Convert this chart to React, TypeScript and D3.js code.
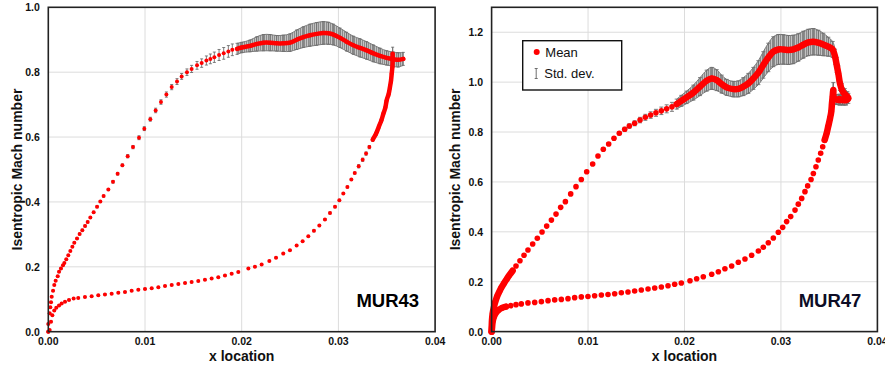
import React from "react";
import * as d3 from "d3";

// x values are given in thousandths (x location * 1000)
const X_UNIT = 1e-3;

const xTicks = [0, 0.01, 0.02, 0.03, 0.04];
const xTickLabels = ["0.00", "0.01", "0.02", "0.03", "0.04"];
const yTicksLeft = [0, 0.2, 0.4, 0.6, 0.8, 1.0];
const yTicksRight = [0, 0.2, 0.4, 0.6, 0.8, 1.0, 1.2];

// ---------- MUR43 : upper (suction side) ----------
const LU_X = [
  0.0, 0.0, 0.14, 0.21, 0.28, 0.35, 0.49, 0.62, 0.76, 0.97,
  1.11, 1.31, 1.52, 1.66, 1.86, 2.07, 2.28, 2.49, 2.69, 2.97,
  3.24, 3.52, 3.8, 4.07, 4.35, 4.69, 5.04, 5.38, 5.72, 6.21,
  6.69, 7.17, 7.66, 8.21, 8.76, 9.38, 9.93, 10.55, 11.1, 11.65,
  12.21, 12.76, 13.31, 13.79, 14.34, 14.82, 15.38, 15.86, 16.35, 16.76,
  17.17, 17.66, 18.14, 18.62, 19.03, 19.52, 20.0, 20.86, 21.55, 22.24,
  22.93, 23.62, 24.3, 24.99, 25.68, 26.37, 27.06, 27.75, 28.44, 28.96,
  29.48, 30.16, 30.85, 31.54, 32.23, 32.92, 33.61, 34.3, 34.99, 35.68,
  36.19, 36.71,
];
const LU_M = [
  0.0, 0.024, 0.057, 0.075, 0.091, 0.108, 0.126, 0.144, 0.157, 0.171,
  0.185, 0.195, 0.205, 0.212, 0.223, 0.236, 0.249, 0.262, 0.274, 0.287,
  0.301, 0.313, 0.326, 0.338, 0.352, 0.368, 0.385, 0.401, 0.418, 0.438,
  0.462, 0.487, 0.513, 0.541, 0.569, 0.598, 0.626, 0.655, 0.682, 0.708,
  0.731, 0.754, 0.771, 0.787, 0.8, 0.81, 0.821, 0.828, 0.836, 0.841,
  0.846, 0.853, 0.858, 0.864, 0.869, 0.872, 0.876, 0.881, 0.887, 0.891,
  0.891, 0.889, 0.889, 0.891, 0.9, 0.908, 0.914, 0.918, 0.921, 0.92,
  0.916, 0.906, 0.894, 0.883, 0.875, 0.867, 0.858, 0.85, 0.844, 0.84,
  0.838, 0.841,
];
const LU_SD = [
  0.002, 0.002, 0.002, 0.002, 0.002, 0.002, 0.002, 0.002, 0.002, 0.002,
  0.002, 0.002, 0.002, 0.002, 0.002, 0.002, 0.002, 0.002, 0.002, 0.002,
  0.003, 0.003, 0.003, 0.003, 0.003, 0.003, 0.003, 0.003, 0.003, 0.003,
  0.004, 0.004, 0.004, 0.005, 0.005, 0.006, 0.006, 0.006, 0.007, 0.007,
  0.008, 0.008, 0.009, 0.009, 0.01, 0.011, 0.012, 0.013, 0.014, 0.015,
  0.016, 0.017, 0.018, 0.018, 0.018, 0.017, 0.016, 0.018, 0.022, 0.025,
  0.025, 0.024, 0.025, 0.027, 0.03, 0.032, 0.034, 0.035, 0.035, 0.034,
  0.032, 0.03, 0.029, 0.028, 0.028, 0.027, 0.026, 0.024, 0.022, 0.022,
  0.022, 0.02,
];

// ---------- MUR43 : lower (pressure side) ----------
const LL_X = [
  0.0, 0.14, 0.28, 0.42, 0.62, 0.83, 1.11, 1.38, 1.73, 2.14,
  2.62, 3.1, 3.79, 4.48, 5.17, 5.86, 6.55, 7.24, 7.93, 8.62,
  9.31, 10.0, 10.69, 11.38, 12.07, 12.76, 13.45, 14.14, 14.82, 15.51,
  16.2, 16.89, 17.58, 18.27, 18.96, 19.65, 20.69, 21.37, 22.06, 22.86,
  23.55, 24.3, 24.99, 25.68, 26.3, 26.89, 27.47, 28.03, 28.61, 29.13,
  29.65, 30.1, 30.51, 30.93, 31.34, 31.69, 32.1, 32.51, 32.86, 33.2,
  33.55, 33.89, 34.17, 34.44, 34.65, 34.85, 34.99, 35.2, 35.33, 35.44,
  35.51, 35.58, 35.61, 35.61,
];
const LL_M = [
  0.0, 0.005, 0.031, 0.051, 0.065, 0.074, 0.081, 0.087, 0.092, 0.098,
  0.102, 0.104, 0.107, 0.109, 0.112, 0.115, 0.117, 0.12, 0.122, 0.126,
  0.129, 0.132, 0.134, 0.137, 0.141, 0.144, 0.147, 0.15, 0.153, 0.156,
  0.16, 0.164, 0.168, 0.173, 0.179, 0.184, 0.195, 0.2, 0.207, 0.218,
  0.228, 0.241, 0.251, 0.266, 0.279, 0.294, 0.311, 0.327, 0.346, 0.366,
  0.385, 0.405, 0.426, 0.446, 0.469, 0.489, 0.51, 0.53, 0.549, 0.569,
  0.592, 0.61, 0.631, 0.651, 0.672, 0.69, 0.713, 0.733, 0.754, 0.774,
  0.795, 0.815, 0.836, 0.857,
];
const LL_SD = [
  0.002, 0.002, 0.002, 0.002, 0.002, 0.002, 0.002, 0.002, 0.002, 0.002,
  0.002, 0.002, 0.002, 0.002, 0.002, 0.002, 0.002, 0.002, 0.002, 0.002,
  0.002, 0.002, 0.002, 0.002, 0.002, 0.002, 0.002, 0.002, 0.002, 0.002,
  0.002, 0.002, 0.002, 0.002, 0.002, 0.002, 0.002, 0.002, 0.002, 0.002,
  0.002, 0.002, 0.002, 0.002, 0.002, 0.002, 0.003, 0.003, 0.003, 0.003,
  0.003, 0.003, 0.003, 0.003, 0.003, 0.003, 0.005, 0.005, 0.005, 0.005,
  0.005, 0.005, 0.005, 0.005, 0.005, 0.005, 0.007, 0.007, 0.007, 0.007,
  0.007, 0.007, 0.01, 0.02,
];

// ---------- MUR47 : upper (suction side) ----------
const RU_X = [
  0.0, 0.04, 0.11, 0.25, 0.39, 0.59, 0.8, 1.01, 1.29, 1.56,
  1.84, 2.18, 2.53, 2.94, 3.36, 3.77, 4.26, 4.74, 5.23, 5.71,
  6.2, 6.68, 7.16, 7.65, 8.2, 8.75, 9.3, 9.86, 10.48, 11.03,
  11.58, 12.14, 12.69, 13.24, 13.8, 14.28, 14.83, 15.39, 15.94, 16.49,
  17.04, 17.6, 18.15, 18.7, 19.19, 19.67, 20.22, 20.92, 21.61, 22.3,
  22.82, 23.34, 23.86, 24.37, 25.07, 25.58, 26.1, 26.62, 27.14, 27.66,
  28.17, 28.69, 29.21, 29.73, 30.25, 30.77, 31.28, 31.8, 32.32, 32.84,
  33.36, 33.88, 34.39, 34.91, 35.36, 35.61, 35.78, 35.95, 36.12, 36.33,
  36.61, 36.89, 36.99, 36.75, 36.4, 36.06,
];
const RU_M = [
  0.0, 0.046, 0.073, 0.1, 0.12, 0.143, 0.16, 0.176, 0.194, 0.21,
  0.226, 0.244, 0.263, 0.284, 0.306, 0.327, 0.351, 0.374, 0.399, 0.423,
  0.447, 0.471, 0.498, 0.521, 0.552, 0.581, 0.61, 0.641, 0.672, 0.704,
  0.731, 0.752, 0.775, 0.795, 0.811, 0.824, 0.835, 0.848, 0.859, 0.868,
  0.877, 0.885, 0.893, 0.901, 0.912, 0.925, 0.939, 0.958, 0.982, 1.006,
  1.015, 1.008, 0.992, 0.979, 0.972, 0.973, 0.982, 0.995, 1.015, 1.038,
  1.069, 1.099, 1.122, 1.131, 1.131, 1.129, 1.131, 1.139, 1.15, 1.159,
  1.162, 1.158, 1.151, 1.142, 1.131, 1.102, 1.069, 1.035, 0.995, 0.968,
  0.952, 0.942, 0.935, 0.928, 0.928, 0.932,
];
const RU_SD = [
  0.002, 0.002, 0.002, 0.002, 0.002, 0.002, 0.002, 0.002, 0.002, 0.002,
  0.002, 0.002, 0.002, 0.003, 0.003, 0.003, 0.003, 0.003, 0.003, 0.003,
  0.003, 0.003, 0.004, 0.004, 0.004, 0.004, 0.005, 0.005, 0.005, 0.006,
  0.006, 0.006, 0.007, 0.007, 0.008, 0.009, 0.01, 0.011, 0.012, 0.013,
  0.014, 0.015, 0.016, 0.018, 0.02, 0.022, 0.025, 0.03, 0.036, 0.042,
  0.044, 0.042, 0.036, 0.032, 0.031, 0.032, 0.036, 0.04, 0.044, 0.048,
  0.053, 0.057, 0.06, 0.06, 0.059, 0.058, 0.057, 0.055, 0.054, 0.053,
  0.053, 0.05, 0.045, 0.038, 0.032, 0.03, 0.03, 0.03, 0.028, 0.025,
  0.022, 0.02, 0.02, 0.02, 0.02, 0.02,
];

// ---------- MUR47 : lower (pressure side) ----------
const RL_X = [
  0.0, 0.04, 0.11, 0.25, 0.46, 0.73, 1.08, 1.49, 1.98, 2.53,
  3.08, 3.77, 4.47, 5.16, 5.85, 6.54, 7.23, 7.92, 8.61, 9.3,
  9.99, 10.68, 11.38, 12.07, 12.76, 13.45, 14.14, 14.83, 15.52, 16.22,
  16.91, 17.6, 18.29, 18.98, 19.67, 20.57, 21.26, 21.95, 22.82, 23.51,
  24.19, 24.89, 25.58, 26.27, 26.96, 27.66, 28.17, 28.69, 29.21, 29.73,
  30.18, 30.59, 31.01, 31.46, 31.8, 32.15, 32.49, 32.77, 33.12, 33.36,
  33.63, 33.87, 34.12, 34.33, 34.53, 34.74, 34.91, 35.09, 35.22, 35.29,
  35.36, 35.43, 35.5, 35.8, 36.1, 36.4,
];
const RL_M = [
  0.0, 0.013, 0.04, 0.06, 0.076, 0.087, 0.095, 0.1, 0.104, 0.108,
  0.111, 0.115, 0.117, 0.12, 0.124, 0.127, 0.129, 0.132, 0.136, 0.139,
  0.141, 0.144, 0.147, 0.149, 0.152, 0.156, 0.159, 0.163, 0.167, 0.171,
  0.175, 0.179, 0.184, 0.19, 0.195, 0.204, 0.212, 0.22, 0.23, 0.24,
  0.252, 0.263, 0.278, 0.291, 0.306, 0.323, 0.338, 0.356, 0.375, 0.398,
  0.418, 0.441, 0.461, 0.487, 0.511, 0.534, 0.561, 0.584, 0.61, 0.634,
  0.661, 0.688, 0.715, 0.741, 0.768, 0.795, 0.824, 0.855, 0.882, 0.915,
  0.942, 0.968, 0.935, 0.93, 0.928, 0.93,
];
const RL_SD = [
  0.002, 0.002, 0.002, 0.002, 0.002, 0.002, 0.002, 0.002, 0.002, 0.002,
  0.002, 0.002, 0.002, 0.002, 0.002, 0.002, 0.002, 0.002, 0.002, 0.002,
  0.002, 0.002, 0.002, 0.002, 0.002, 0.002, 0.002, 0.002, 0.002, 0.002,
  0.002, 0.002, 0.002, 0.002, 0.002, 0.002, 0.002, 0.002, 0.002, 0.002,
  0.002, 0.002, 0.002, 0.002, 0.002, 0.002, 0.002, 0.002, 0.002, 0.002,
  0.002, 0.002, 0.002, 0.002, 0.002, 0.002, 0.002, 0.002, 0.002, 0.002,
  0.004, 0.004, 0.005, 0.005, 0.006, 0.006, 0.007, 0.008, 0.009, 0.01,
  0.012, 0.03, 0.02, 0.02, 0.02, 0.02,
];

type Series = { xs: number[]; ms: number[]; sds: number[]; dense: [number, number][] };
type Pt = { x: number; m: number; sd: number };

const toPts = (xs: number[], ms: number[], sds: number[]): Pt[] =>
  xs.map((v, i) => ({ x: v * X_UNIT, m: ms[i], sd: sds[i] }));

const FONT = "'Liberation Sans', Arial, Helvetica, sans-serif";

function Panel(props: {
  id: string; x0: number; x1: number; y0: number; y1: number; yMax: number; yTicks: number[];
  series: Series[]; label: string; labelColor: string; dotR: number; lineW: number;
  capW: number; yLabelX: number; legend?: boolean;
}) {
  const { id, x0, x1, y0, y1, yMax, yTicks, series, label, labelColor, dotR, lineW, capW, yLabelX, legend } = props;
  const x = d3.scaleLinear().domain([0, 0.04]).range([x0, x1]);
  const y = d3.scaleLinear().domain([0, yMax]).range([y1, y0]);
  const curve = d3.curveCatmullRom.alpha(0.5);
  const line = d3.line<Pt>().x((d) => x(d.x)).y((d) => y(d.m)).curve(curve);
  const area = d3.area<Pt>().x((d) => x(d.x)).y0((d) => y(d.m - d.sd)).y1((d) => y(d.m + d.sd)).curve(curve);
  const lineLo = d3.line<Pt>().x((d) => x(d.x)).y((d) => y(d.m - d.sd)).curve(curve);
  const lineHi = d3.line<Pt>().x((d) => x(d.x)).y((d) => y(d.m + d.sd)).curve(curve);

  const all = series.map((s) => {
    const pts = toPts(s.xs, s.ms, s.sds);
    const segs = s.dense.map(([a, b]) => pts.filter((p) => p.x >= a && p.x <= b));
    return { pts, segs };
  });
  const patId = "bars-" + id;

  return (
    <g fontFamily={FONT}>
      <defs>
        <pattern id={patId} width={2} height={4} patternUnits="userSpaceOnUse">
          <rect width={2} height={4} fill="#c2c2c2" />
          <line x1={0.5} x2={0.5} y1={0} y2={4} stroke="#858585" strokeWidth={0.9} />
        </pattern>
      </defs>
      <rect x={x0} y={y0} width={x1 - x0} height={y1 - y0} fill="#fff" />
      {xTicks.slice(1, -1).map((t) => (
        <line key={"gx" + t} x1={x(t)} x2={x(t)} y1={y0} y2={y1} stroke="#dcdcdc" strokeWidth={1} />
      ))}
      {yTicks.filter((t) => t > 0 && y(t) > y0 + 1).map((t) => (
        <line key={"gy" + t} x1={x0} x2={x1} y1={y(t)} y2={y(t)} stroke="#dcdcdc" strokeWidth={1} />
      ))}
      {/* std bands in dense regions */}
      {all.map((s, si) =>
        s.segs.map((seg, k) =>
          seg.length > 1 ? (
            <g key={"band" + si + "-" + k}>
              <path d={area(seg) || ""} fill={`url(#${patId})`} />
              <path d={lineLo(seg) || ""} fill="none" stroke="#7a7a7a" strokeWidth={1} />
              <path d={lineHi(seg) || ""} fill="none" stroke="#7a7a7a" strokeWidth={1} />
            </g>
          ) : null
        )
      )}
      {/* error bars */}
      {all.map((s, si) =>
        s.pts.map((p, i) => {
          const cx = x(p.x);
          const ya = y(p.m - p.sd);
          const yb = y(p.m + p.sd);
          return (
            <g key={"eb" + si + "-" + i} stroke="#6e6e6e" strokeWidth={0.9}>
              <line x1={cx} x2={cx} y1={ya} y2={yb} />
              <line x1={cx - capW / 2} x2={cx + capW / 2} y1={ya} y2={ya} />
              <line x1={cx - capW / 2} x2={cx + capW / 2} y1={yb} y2={yb} />
            </g>
          );
        })
      )}
      {/* dense mean lines */}
      {all.map((s, si) =>
        s.segs.map((seg, k) =>
          seg.length > 1 ? (
            <path key={"ml" + si + "-" + k} d={line(seg) || ""} fill="none" stroke="#ff0000"
              strokeWidth={lineW} strokeLinecap="round" strokeLinejoin="round" />
          ) : null
        )
      )}
      {/* mean dots */}
      {all.map((s, si) =>
        s.pts.map((p, i) => (
          <circle key={"d" + si + "-" + i} cx={x(p.x)} cy={y(p.m)} r={dotR} fill="#ff0000" />
        ))
      )}
      {/* frame */}
      <rect x={x0} y={y0} width={x1 - x0} height={y1 - y0} fill="none" stroke="#222" strokeWidth={1.6} />
      {/* tick labels */}
      {xTicks.map((t, i) => (
        <text key={"xl" + t} x={x(t)} y={y1 + 13.5} textAnchor="middle" fontSize={10.5} fontWeight="bold" fill="#111">
          {xTickLabels[i]}
        </text>
      ))}
      {yTicks.map((t) => (
        <text key={"yl" + t} x={x0 - 8.5} y={y(t) + 4} textAnchor="end" fontSize={10.5} fontWeight="bold" fill="#111">
          {t.toFixed(1)}
        </text>
      ))}
      <text x={(x0 + x1) / 2} y={361} textAnchor="middle" fontSize={14} fontWeight="bold" fill="#111">
        x location
      </text>
      <text transform={`translate(${yLabelX},${(y0 + y1) / 2}) rotate(-90)`} textAnchor="middle" fontSize={14}
        fontWeight="bold" fill="#111">
        Isentropic Mach number
      </text>
      <text x={x1 - 16} y={306.5} textAnchor="end" fontSize={18.5} fontWeight="bold" fill={labelColor}>
        {label}
      </text>
      {legend ? (
        <g>
          <rect x={522.7} y={40.7} width={99} height={49.3} fill="#fff" stroke="#111" strokeWidth={1.4} />
          <circle cx={536.7} cy={52} r={3} fill="#ff0000" />
          <text x={545.3} y={56.5} fontSize={13} fill="#111">Mean</text>
          <g stroke="#6e6e6e" strokeWidth={1}>
            <line x1={536.2} x2={536.2} y1={68.5} y2={78.5} />
            <line x1={534.7} x2={537.7} y1={68.5} y2={68.5} />
            <line x1={534.7} x2={537.7} y1={78.5} y2={78.5} />
          </g>
          <text x={544.3} y={78} fontSize={13} fill="#111">Std. dev.</text>
        </g>
      ) : null}
    </g>
  );
}

export default function App() {
  const leftSeries: Series[] = [
    { xs: LU_X, ms: LU_M, sds: LU_SD, dense: [[0.0194, 0.04]] },
    { xs: LL_X, ms: LL_M, sds: LL_SD, dense: [[0.0335, 0.04]] },
  ];
  const rightSeries: Series[] = [
    { xs: RU_X, ms: RU_M, sds: RU_SD, dense: [[0, 0.0022], [0.019, 0.04]] },
    { xs: RL_X, ms: RL_M, sds: RL_SD, dense: [[0, 0.0015], [0.0345, 0.04]] },
  ];
  return (
    <svg width={885} height={369} style={{ position: "absolute", left: 0, top: 0, background: "#fff" }}>
      <Panel id="l" x0={48.3} x1={435.1} y0={7.3} y1={331.7} yMax={1.0} yTicks={yTicksLeft} series={leftSeries}
        label="MUR43" labelColor="#000" dotR={2} lineW={4.5} capW={3} yLabelX={21.5} />
      <Panel id="r" x0={491.6} x1={877.4} y0={7.3} y1={331.6} yMax={1.3} yTicks={yTicksRight} series={rightSeries}
        label="MUR47" labelColor="#0d0d26" dotR={2.8} lineW={6.5} capW={4} yLabelX={460} legend />
    </svg>
  );
}
